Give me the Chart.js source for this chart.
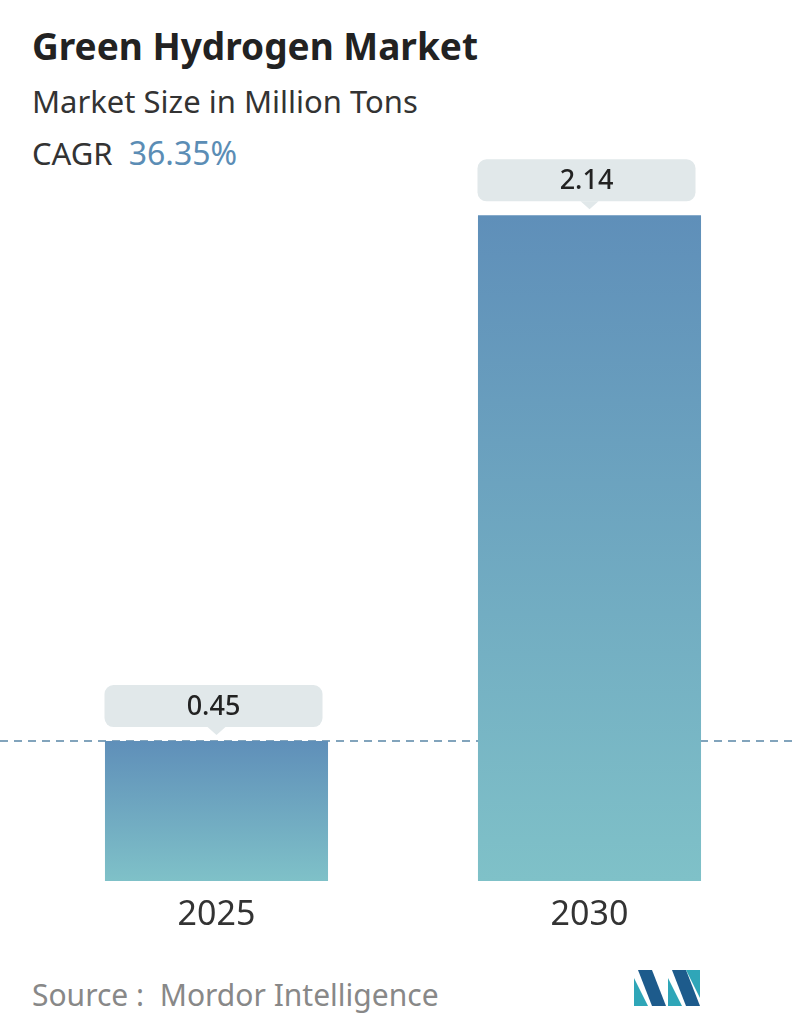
<!DOCTYPE html>
<html>
<head>
<meta charset="utf-8">
<script src="https://cdn.jsdelivr.net/npm/chart.js@4.4.0/dist/chart.umd.min.js"></script>
<style>
body { margin:0; width:796px; height:1034px; background:#fff; font-family:"Noto Sans", sans-serif; position:relative; overflow:hidden; }
.t { position:absolute; left:32px; white-space:nowrap; line-height:1; }
#wrap { position:absolute; left:0; top:150px; width:796px; height:800px; }
</style>
</head>
<body>
<div class="t" style="top:27px;font-size:37px;font-weight:bold;color:#222;">Green Hydrogen Market</div>
<div class="t" style="top:86px;font-size:31px;color:#333;">Market Size in Million Tons</div>
<div class="t" style="top:137px;font-size:31px;color:#333;">CAGR&nbsp; <span style="color:#5b8db5;font-size:32px">36.35%</span></div>
<div id="wrap"><canvas id="c"></canvas></div>
<div class="t" style="top:980px;font-size:30px;color:#888;">Source :&nbsp; Mordor Intelligence</div>
<svg style="position:absolute;left:634px;top:970px" width="68" height="36">
  <polygon points="0,36 0,8 14,36" fill="#2fa6b8"/>
  <polygon points="4,0 18,0 32,36 18,36" fill="#1d5b8c"/>
  <polygon points="34,36 34,8 48,36" fill="#2fa6b8"/>
  <polygon points="38,0 52,0 66,36 52,36" fill="#1d5b8c"/>
  <polygon points="52,0 66,0 66,28" fill="#2fa6b8"/>
</svg>
<script>
const years = ["2025", "2030"];
const sizes = [0.45, 2.14];

function barGradient(ctx) {
  const chart = ctx.chart;
  const y = chart.scales.y;
  if (!y || !chart.chartArea) return "#6a9fbd";
  const top = y.getPixelForValue(ctx.raw);
  const bottom = y.getPixelForValue(0);
  const g = chart.ctx.createLinearGradient(0, top, 0, bottom);
  g.addColorStop(0, "#5f8fb9");
  g.addColorStop(1, "#7fc1c8");
  return g;
}

const extras = {
  id: "extras",
  beforeDatasetsDraw(chart) {
    const c = chart.ctx, y = chart.scales.y.getPixelForValue(sizes[0]);
    c.save();
    c.strokeStyle = "#5a86a6";
    c.lineWidth = 1.5;
    c.setLineDash([8, 6]);
    c.beginPath();
    c.moveTo(0, y); c.lineTo(chart.width, y);
    c.stroke();
    c.restore();
  },
  afterDatasetsDraw(chart) {
    const c = chart.ctx;
    const meta = chart.getDatasetMeta(0);
    c.save();
    meta.data.forEach((bar, i) => {
      const w = 218, h = 42, x0 = bar.x - w / 2 - 3, y1 = bar.y - 14, y0 = y1 - h;
      c.fillStyle = "#e1e8ea";
      c.beginPath();
      c.roundRect(x0, y0, w, h, 9);
      c.fill();
      c.beginPath();
      c.moveTo(bar.x - 9, y1); c.lineTo(bar.x, y1 + 8); c.lineTo(bar.x + 9, y1);
      c.fill();
      c.fillStyle = "#222";
      c.font = "500 27px 'Noto Sans'";
      c.textAlign = "center";
      c.textBaseline = "middle";
      c.fillText(sizes[i].toFixed(2), bar.x - 3, y0 + h / 2 + 1);
      c.fillStyle = "#333";
      c.font = "34px 'Noto Sans'";
      c.fillText(years[i], bar.x, chart.scales.y.getPixelForValue(0) + 34);
    });
    c.restore();
  }
};

new Chart(document.getElementById("c"), {
  type: "bar",
  data: {
    labels: years,
    datasets: [{
      data: sizes,
      backgroundColor: barGradient,
      barPercentage: 0.598,
      categoryPercentage: 1
    }]
  },
  options: {
    responsive: true,
    maintainAspectRatio: false,
    animation: false,
    layout: { padding: { left: 30, right: 20, top: 0, bottom: 69 } },
    plugins: { legend: { display: false }, tooltip: { enabled: false } },
    scales: {
      x: { display: false },
      y: { display: false, min: 0, max: 2.35 }
    }
  },
  plugins: [extras]
});
</script>
</body>
</html>
